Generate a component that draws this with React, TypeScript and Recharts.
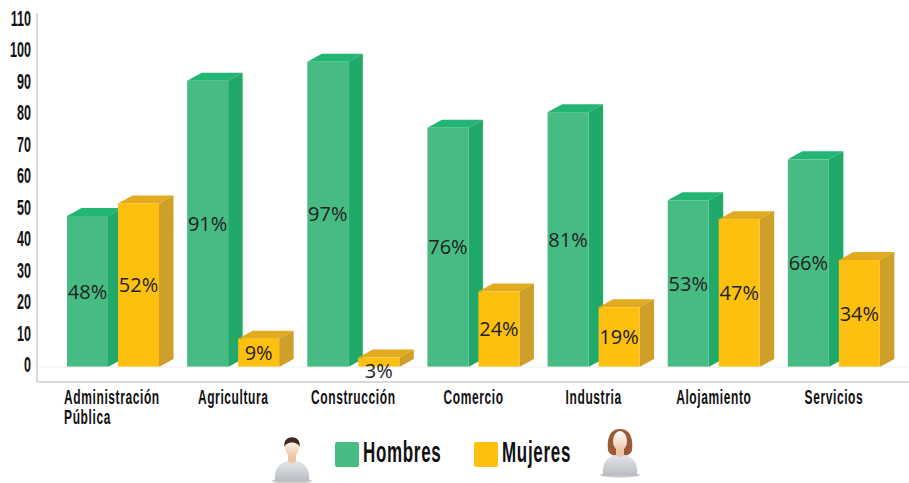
import React from 'react';
import { BarChart, Bar, XAxis, YAxis, ReferenceLine, LabelList } from 'recharts';

const categories = ['Administración Pública', 'Agricultura', 'Construcción', 'Comercio', 'Industria', 'Alojamiento', 'Servicios'];
const hombres = [48, 91, 97, 76, 81, 53, 66];
const mujeres = [52, 9, 3, 24, 19, 47, 34];
const yTicks = [0, 10, 20, 30, 40, 50, 60, 70, 80, 90, 100, 110];

const chartData = categories.map((name, i) => ({ name, hombres: hombres[i], mujeres: mujeres[i] }));

const GREEN = { front: '#47BC82', side: '#20A968', top: '#22B573' };
const YELLOW = { front: '#FEC00F', side: '#CFA029', top: '#E2AA1E' };
const DX = 14.5;
const DY = 8;
const HEAD = '"Liberation Sans", sans-serif';

function Box3D({ x, y, width, height, colors }: any) {
  const r = x + width;
  const b = y + height;
  return (
    <g>
      <path d={`M${x},${y}L${x + DX},${y - DY}L${r + DX},${y - DY}L${r},${y}Z`} fill={colors.top} />
      <path d={`M${r},${y}L${r + DX},${y - DY}L${r + DX},${b - DY}L${r},${b}Z`} fill={colors.side} />
      <rect x={x} y={y} width={width} height={height} fill={colors.front} />
    </g>
  );
}

function PctLabel({ x, y, width, height, value }: any) {
  // the tiny bar's label sits under the baseline in the original
  const cy = height < 15 ? y + height + 4 : y + height / 2;
  return (
    <text x={x + width / 2} y={cy} dy={7} textAnchor="middle" fontFamily="Open Sans" fontSize={20} fill="#222">
      {value}%
    </text>
  );
}

// no condensed face is installed, so the heading font is squeezed horizontally
function Squeezed({ x, y, size, sx, anchor, spacing, children }: any) {
  return (
    <text
      transform={`translate(${x},${y}) scale(${sx},1)`}
      textAnchor={anchor}
      fontFamily={HEAD}
      fontWeight={700}
      fontSize={size}
      letterSpacing={spacing}
      fill="#111"
    >
      {children}
    </text>
  );
}

function XTick({ x, y, payload }: any) {
  const words = payload.value === 'Administración Pública' ? ['Administración', 'Pública'] : [payload.value];
  return (
    <g>
      {words.map((w: string, i: number) => (
        <Squeezed
          key={w}
          x={words.length > 1 ? x - 49 : x}
          y={y + 14 + i * 20}
          size={20}
          sx={0.6}
          spacing={1}
          anchor={words.length > 1 ? 'start' : 'middle'}
        >
          {w}
        </Squeezed>
      ))}
    </g>
  );
}

function YTick({ y, payload }: any) {
  return (
    <Squeezed x={31} y={y + 5} size={22} sx={0.57} anchor="end">
      {payload.value}
    </Squeezed>
  );
}

function Person({ hair, female }: { hair: string; female?: boolean }) {
  return (
    <svg width={42} height={50} viewBox="0 0 42 50" style={{ display: 'block' }}>
      <defs>
        <linearGradient id={female ? 'skinF' : 'skinM'} x1="0" y1="0" x2="0" y2="1">
          <stop offset="0%" stopColor="#ffffff" />
          <stop offset="100%" stopColor="#eec4a6" />
        </linearGradient>
        <linearGradient id={female ? 'bodyF' : 'bodyM'} x1="0" y1="0" x2="0" y2="1">
          <stop offset="0%" stopColor="#e6e8ea" />
          <stop offset="100%" stopColor="#b9bdc3" />
        </linearGradient>
      </defs>
      <ellipse cx={21} cy={47} rx={20} ry={2.5} fill="#9a9a9a" opacity={0.55} />
      {female && <path d="M21,1C9,1 8,14 9,22C10,27 15,28 21,28C27,28 32,27 33,22C34,14 33,1 21,1Z" fill={hair} />}
      <path d="M4,47C3,34 8,28 21,26C34,28 39,34 38,47Z" fill={`url(#${female ? 'bodyF' : 'bodyM'})`} />
      <path d="M17,18L25,18L25,27C23,30 19,30 17,27Z" fill="#eec4a6" />
      <ellipse cx={21} cy={13} rx={7} ry={10} fill={`url(#${female ? 'skinF' : 'skinM'})`} />
      {!female && <path d="M13.5,13C11,0 31,0 28.5,13C27,7 15,7 13.5,13Z" fill={hair} />}
    </svg>
  );
}

function LegendRow() {
  const label: React.CSSProperties = {
    position: 'absolute',
    top: 437,
    fontFamily: HEAD,
    fontWeight: 700,
    fontSize: 29,
    color: '#111',
    letterSpacing: 1.2,
    lineHeight: '30px',
    transform: 'scaleX(0.585)',
    transformOrigin: 'left center',
  };
  const swatch = (bg: string, left: number): React.CSSProperties => ({
    position: 'absolute',
    left,
    top: 442,
    width: 24,
    height: 25,
    borderRadius: 2,
    background: bg,
  });
  return (
    <>
      <div style={{ position: 'absolute', left: 271, top: 434 }}><Person hair="#3b2a22" /></div>
      <div style={swatch(GREEN.front, 335)} />
      <div style={{ ...label, left: 363 }}>Hombres</div>
      <div style={swatch(YELLOW.front, 474)} />
      <div style={{ ...label, left: 502 }}>Mujeres</div>
      <div style={{ position: 'absolute', left: 599, top: 428 }}><Person hair="#9a5a35" female /></div>
    </>
  );
}

export default function App() {
  return (
    <div style={{ position: 'absolute', left: 0, top: 0, width: 909, height: 483, background: '#fff', overflow: 'hidden' }}>
      <BarChart
        width={909}
        height={483}
        data={chartData}
        margin={{ top: 13, right: 0, bottom: 0, left: 0 }}
        barSize={41}
        barGap={10}
      >
        <XAxis
          dataKey="name"
          interval={0}
          height={101}
          padding={{ left: 16, right: 15 }}
          stroke="#cdcdcd"
          strokeWidth={1.5}
          tickLine={false}
          tick={<XTick />}
        />
        <YAxis
          type="number"
          width={37}
          domain={[-4.75, 112.5]}
          ticks={yTicks}
          stroke="#cdcdcd"
          strokeWidth={1.5}
          tickLine={false}
          tick={<YTick />}
        />
        <ReferenceLine y={0} stroke="#efefef" />
        <Bar dataKey="hombres" isAnimationActive={false} shape={(p: any) => <Box3D {...p} colors={GREEN} />}>
          <LabelList dataKey="hombres" content={<PctLabel />} />
        </Bar>
        <Bar dataKey="mujeres" isAnimationActive={false} shape={(p: any) => <Box3D {...p} colors={YELLOW} />}>
          <LabelList dataKey="mujeres" content={<PctLabel />} />
        </Bar>
      </BarChart>
      <LegendRow />
    </div>
  );
}
